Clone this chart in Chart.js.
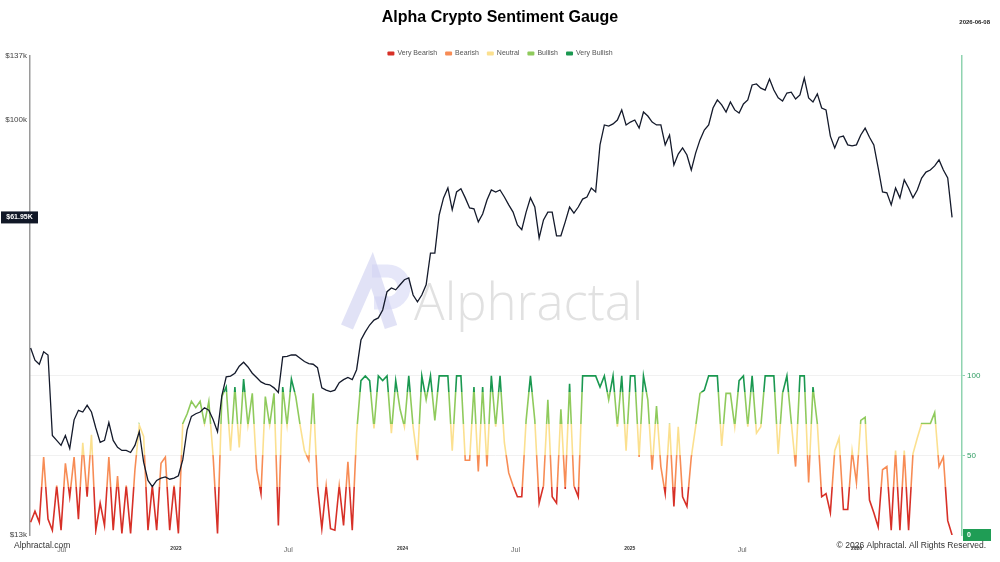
<!DOCTYPE html>
<html>
<head>
<meta charset="utf-8">
<title>Alpha Crypto Sentiment Gauge</title>
<script src="https://cdn.jsdelivr.net/npm/chart.js"></script>
<style>
  html, body { margin: 0; padding: 0; background: #fff; }
  #wrap { width: 1000px; height: 562px; position: relative; }
</style>
</head>
<body>
<div id="wrap"><canvas id="chart"></canvas></div>
<script>
// weekly samples, day numbers counted from 2022-01-01
const startDay = 131;
const stepDays = 7;

// BTC price, $k
const price = [
  32.6, 30.7, 30.1, 32.0, 31.5, 21.2, 20.7, 20.2, 21.2, 19.9,
  22.9, 24.0, 23.8, 24.6, 23.8, 22.0, 20.5, 20.7, 22.6, 20.7,
  20.0, 19.7, 19.7, 19.5, 20.2, 21.6, 18.6, 17.0, 16.5, 17.0,
  17.2, 17.3, 17.1, 17.2, 17.4, 18.8, 21.8, 23.3, 23.6, 23.8,
  24.3, 24.0, 22.9, 21.6, 25.8, 28.3, 28.4, 28.8, 29.8, 30.4,
  29.7, 28.8, 28.2, 27.6, 27.3, 27.2, 26.8, 26.2, 31.2, 31.3,
  31.5, 31.5, 31.0, 30.5, 30.2, 30.1, 29.6, 26.8, 26.5, 26.3,
  26.5, 27.5, 27.9, 28.2, 27.9, 29.3, 33.9, 35.3, 36.5, 37.4,
  37.8, 39.3, 43.0, 43.8, 43.4, 44.5, 45.6, 46.0, 42.3, 40.9,
  42.3, 44.5, 52.0, 52.0, 62.7, 68.2, 71.6, 64.3, 70.2, 71.3,
  68.2, 64.9, 64.6, 60.6, 63.0, 67.5, 70.9, 70.2, 70.9, 68.5,
  65.9, 63.6, 59.7, 58.3, 63.6, 68.2, 65.2, 56.0, 61.2, 63.6,
  63.6, 56.6, 56.6, 60.6, 65.2, 63.3, 65.2, 67.8, 68.5, 71.6,
  70.2, 88.5, 97.6, 97.1, 98.1, 100.0, 105.1, 97.6, 99.0, 100.0,
  96.1, 104.0, 102.0, 99.0, 97.6, 97.6, 88.5, 92.9, 80.2, 84.6,
  87.2, 84.2, 78.2, 85.0, 90.7, 95.2, 97.6, 106.1, 110.4, 107.7,
  104.0, 109.3, 105.1, 103.5, 108.2, 110.4, 118.8, 119.4, 117.0, 115.9,
  122.3, 115.9, 111.5, 109.8, 114.2, 114.7, 110.9, 113.1, 122.9, 111.5,
  109.3, 113.7, 106.1, 105.1, 92.4, 87.2, 91.9, 92.4, 88.5, 88.1,
  88.5, 92.9, 96.1, 91.9, 88.5, 79.0, 70.2, 69.9, 65.9, 71.6,
  68.2, 74.5, 71.6, 68.2, 70.9, 75.2, 77.4, 78.2, 79.8, 82.2,
  78.2, 75.2, 61.95
];

// sentiment gauge 0-100
const sentiment = [
  8, 15, 8, 49, 10, 3, 31, 3, 45, 24,
  49, 10, 58, 24, 63, 3, 20, 6, 49, 3,
  37, 1, 31, 1, 41, 69, 62, 3, 31, 3,
  45, 49, 3, 31, 1, 70, 76, 84, 80, 84,
  70, 84, 49, 1, 87, 93, 53, 93, 55, 98,
  69, 89, 41, 26, 87, 69, 89, 6, 93, 69,
  98, 87, 69, 53, 47, 89, 31, 4, 31, 4,
  3, 31, 6, 46, 3, 64, 97, 100, 97, 67,
  100, 97, 100, 64, 97, 79, 68, 100, 68, 47,
  100, 85, 100, 72, 100, 100, 100, 53, 100, 100,
  47, 47, 93, 40, 93, 43, 100, 68, 100, 58,
  39, 31, 24, 24, 72, 100, 72, 20, 31, 85,
  24, 20, 79, 29, 95, 31, 24, 100, 100, 100,
  100, 93, 100, 85, 100, 68, 100, 53, 100, 100,
  49, 100, 85, 41, 81, 43, 26, 70, 18, 68,
  24, 18, 49, 68, 89, 91, 100, 100, 100, 56,
  89, 89, 68, 97, 100, 68, 100, 64, 68, 100,
  100, 100, 51, 89, 100, 71, 43, 100, 100, 33,
  93, 70, 24, 26, 14, 53, 61, 16, 16, 53,
  33, 72, 74, 22, 14, 5, 41, 43, 3, 53,
  3, 53, 3, 51, 61, 70, 70, 70, 77, 43,
  49, 9, 0
];

const bandNames = ['Very Bearish', 'Bearish', 'Neutral', 'Bullish', 'Very Bullish'];
const bandColors = ['#d73027', '#f78c55', '#fbe08f', '#8fca5c', '#1a9850'];
const bandEdges = [0, 30, 50, 70, 90, 100];

const tickDays = [181, 365, 546, 730, 912, 1096, 1277, 1461];
const tickLabels = ['Jul', '2023', 'Jul', '2024', 'Jul', '2025', 'Jul', '2026'];
const priceTicks = [13, 100, 137];
const priceTickLabels = ['$13k', '$100k', '$137k'];
const sentTicks = [50, 100];
const lastDate = '2026-06-08';

const FONT = "'Liberation Sans', Arial, Helvetica, sans-serif";
Chart.defaults.font.family = FONT;

const pricePoints = price.map((v, i) => ({ x: startDay + i * stepDays, y: v }));
const sentPoints = sentiment.map((v, i) => ({ x: startDay + i * stepDays, y: v }));

function bandGradient(context) {
  const chart = context.chart;
  if (!chart.chartArea) return bandColors[0];
  const s = chart.scales.ySent;
  const y0 = s.getPixelForValue(0);
  const y1 = s.getPixelForValue(100);
  const g = chart.ctx.createLinearGradient(0, y0, 0, y1);
  bandColors.forEach((c, i) => {
    g.addColorStop(bandEdges[i] / 100, c);
    g.addColorStop(bandEdges[i + 1] / 100, c);
  });
  return g;
}

const overlay = {
  id: 'overlay',
  beforeDatasetsDraw(chart) {
    const c = chart.ctx;
    c.save();
    // logo
    c.strokeStyle = 'rgba(196, 198, 238, 0.5)';
    c.lineWidth = 13;
    c.lineJoin = 'miter';
    c.beginPath();
    c.moveTo(347, 327);
    c.lineTo(372, 270);
    c.lineTo(391, 327);
    c.stroke();
    c.strokeStyle = 'rgba(210, 212, 244, 0.55)';
    c.beginPath();
    c.moveTo(372, 271);
    c.lineTo(388, 271);
    c.arc(388, 287, 16, -Math.PI / 2, Math.PI / 2);
    c.lineTo(374, 303);
    c.stroke();
    // wordmark
    c.fillStyle = 'rgba(205, 205, 205, 0.6)';
    c.font = "300 51px 'Open Sans', " + FONT;
    c.textBaseline = 'alphabetic';
    c.textAlign = 'left';
    c.fillText('Alphractal', 414, 320);
    c.restore();
  },
  afterDraw(chart) {
    const c = chart.ctx;
    c.save();
    // title
    c.fillStyle = '#000';
    c.font = 'bold 16px ' + FONT;
    c.textAlign = 'center';
    c.textBaseline = 'middle';
    c.fillText('Alpha Crypto Sentiment Gauge', 500, 18);
    // date
    c.font = 'bold 6px ' + FONT;
    c.textAlign = 'right';
    c.fillStyle = '#222';
    c.fillText(lastDate, 990, 22);

    // legend
    c.font = '7px ' + FONT;
    c.textAlign = 'left';
    const boxW = 7, boxH = 4, gap = 3, itemGap = 8;
    let total = 0;
    bandNames.forEach(n => { total += boxW + gap + c.measureText(n).width + itemGap; });
    total -= itemGap;
    let x = 500 - total / 2;
    bandNames.forEach((n, i) => {
      c.fillStyle = bandColors[i];
      c.beginPath();
      c.roundRect(x, 51.5, boxW, boxH, 1);
      c.fill();
      x += boxW + gap;
      c.fillStyle = '#555';
      c.fillText(n, x, 53.5);
      x += c.measureText(n).width + itemGap;
    });

    // current value badges
    const yp = chart.scales.yPrice.getPixelForValue(price[price.length - 1]);
    c.fillStyle = '#111827';
    c.fillRect(1, yp - 6, 37, 12);
    c.fillStyle = '#fff';
    c.font = 'bold 7px ' + FONT;
    c.textAlign = 'center';
    c.fillText('$' + price[price.length - 1].toFixed(2) + 'K', 19.5, yp);

    const lastS = sentiment[sentiment.length - 1];
    const ys = chart.scales.ySent.getPixelForValue(lastS);
    c.fillStyle = '#1f9d55';
    c.fillRect(963, ys - 6, 28, 12);
    c.fillStyle = '#fff';
    c.textAlign = 'left';
    c.fillText(String(lastS), 967, ys);

    // footer
    c.fillStyle = '#333';
    c.font = '8.5px ' + FONT;
    c.textAlign = 'left';
    c.fillText('Alphractal.com', 14, 546);
    c.textAlign = 'right';
    c.fillText('\u00A9 2026 Alphractal. All Rights Reserved.', 986, 546);
    c.restore();
  }
};

new Chart(document.getElementById('chart'), {
  type: 'line',
  data: {
    datasets: [
      {
        label: 'Price',
        data: pricePoints,
        yAxisID: 'yPrice',
        borderColor: '#141a2b',
        borderWidth: 1.3,
        pointRadius: 0,
        tension: 0
      },
      {
        label: 'Sentiment',
        data: sentPoints,
        yAxisID: 'ySent',
        borderColor: bandGradient,
        borderWidth: 1.6,
        pointRadius: 0,
        tension: 0
      }
    ]
  },
  options: {
    responsive: true,
    maintainAspectRatio: false,
    animation: false,
    layout: { padding: { top: 56, left: 0, right: 0, bottom: 0 } },
    plugins: {
      legend: { display: false },
      title: { display: false },
      tooltip: { enabled: false }
    },
    scales: {
      x: {
        type: 'linear',
        min: 130,
        max: 1631,
        afterBuildTicks: s => { s.ticks = tickDays.map(v => ({ value: v })); },
        afterFit: s => { s.height = 27; },
        grid: { display: false },
        border: { display: false },
        ticks: {
          autoSkip: false,
          maxRotation: 0,
          padding: 3,
          callback: (v, i) => tickLabels[i],
          color: ctx => /^\d{4}$/.test(tickLabels[ctx.index]) ? '#333' : '#666',
          font: ctx => /^\d{4}$/.test(tickLabels[ctx.index]) ? { size: 5, weight: 'bold' } : { size: 7 }
        }
      },
      yPrice: {
        type: 'logarithmic',
        position: 'left',
        min: 13,
        max: 137,
        afterBuildTicks: s => { s.ticks = priceTicks.map(v => ({ value: v })); },
        afterFit: s => { s.width = 30; },
        grid: { display: false, drawTicks: false },
        border: { color: '#9a9a9a', width: 1.5 },
        ticks: {
          padding: 3,
          color: '#444',
          font: { size: 8 },
          callback: (v, i) => priceTickLabels[i]
        }
      },
      ySent: {
        type: 'linear',
        position: 'right',
        min: 0,
        max: 301,
        afterBuildTicks: s => { s.ticks = sentTicks.map(v => ({ value: v })); },
        afterFit: s => { s.width = 38; },
        grid: { drawOnChartArea: true, color: '#f1f1f1', tickColor: '#8fd3b0', tickLength: 3 },
        border: { color: '#8fd3b0', width: 1.5 },
        ticks: {
          padding: 2,
          color: '#2f9c62',
          font: { size: 8 },
          callback: v => v
        }
      }
    }
  },
  plugins: [overlay]
});
</script>
</body>
</html>
